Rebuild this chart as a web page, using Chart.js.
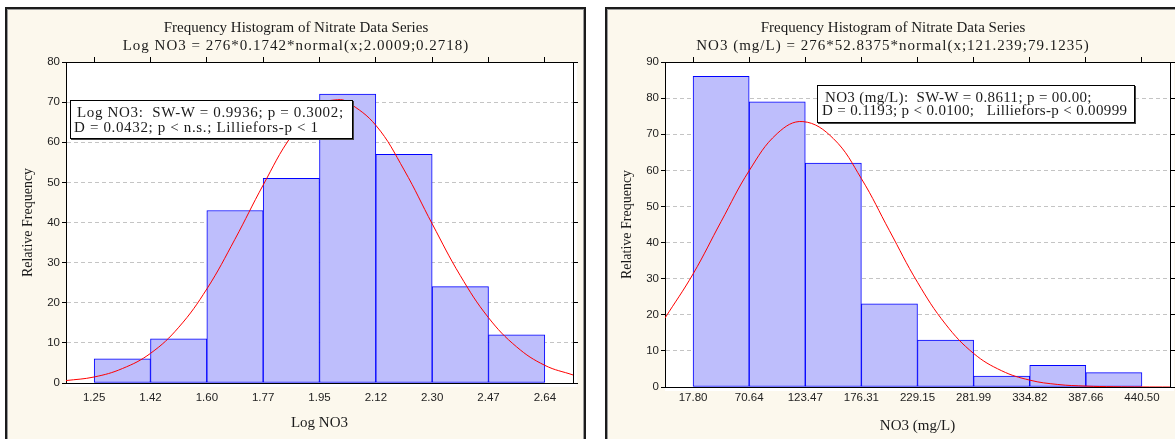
<!DOCTYPE html>
<html>
<head>
<meta charset="utf-8">
<script src="https://cdn.jsdelivr.net/npm/chart.js@4.4.0/dist/chart.umd.min.js"></script>
<style>
  body { margin: 0; background: #fff; width: 1175px; height: 439px; overflow: hidden; position: relative;
         font-family: "Liberation Serif", "Times New Roman", serif; color: #1a1a1a; }
  .panel { position: absolute; top: 7px; height: 470px; box-sizing: border-box; border: 2px solid #1b1b1b;
           background: #fcf8ed; box-shadow: inset 1px 1px 0 #9a9a9a, inset -1px 0 0 #9a9a9a; }
  #p1 { left: 5px; width: 581px; }
  #p2 { left: 605px; width: 600px; }
  canvas { position: absolute; top: 0; }
  #c1 { left: 0; }
  #c2 { left: 595px; }
  .ttl { position: absolute; top: 18px; white-space: nowrap; transform: translateX(-50%); text-align: center;
         font-size: 15px; line-height: 18px; }
  .ttl .l2 { letter-spacing: 1px; }
  .stat { position: absolute; box-sizing: border-box; background: #fff; border: 1px solid #000;
          box-shadow: 1px 1px 0 #444; font-size: 15px; white-space: nowrap; }
  #s1 { left: 70px; top: 100px; width: 283px; height: 39px; line-height: 15px; padding: 4px 0 0 3px; letter-spacing: 0.65px; }
  #s2 { left: 817px; top: 85px; width: 318px; height: 38px; line-height: 13px; padding: 5px 0 0 4px; letter-spacing: 0.35px; }
</style>
</head>
<body>
<div class="panel" id="p1"></div>
<div class="panel" id="p2"></div>
<canvas id="c1" width="590" height="439"></canvas>
<canvas id="c2" width="580" height="439"></canvas>

<div class="ttl" style="left:296px">Frequency Histogram of Nitrate Data Series<br><span class="l2">Log NO3 = 276*0.1742*normal(x;2.0009;0.2718)</span></div>
<div class="ttl" style="left:893px">Frequency Histogram of Nitrate Data Series<br><span class="l2">NO3 (mg/L) = 276*52.8375*normal(x;121.239;79.1235)</span></div>

<div class="stat" id="s1"><span style="padding-left:3px">Log NO3:&nbsp; SW-W = 0.9936; p = 0.3002;</span><br>D = 0.0432; p &lt; n.s.; Lilliefors-p &lt; 1</div>
<div class="stat" id="s2"><span style="padding-left:3px">NO3 (mg/L):&nbsp; SW-W = 0.8611; p = 00.00;</span><br>D = 0.1193; p &lt; 0.0100;&nbsp;&nbsp; Lilliefors-p &lt; 0.00999</div>

<script>
// Log NO3 histogram (left)
const logEdges = [1.25, 1.42375, 1.5975, 1.77125, 1.945, 2.11875, 2.2925, 2.46625, 2.64];
const logTickLabels = ['1.25', '1.42', '1.60', '1.77', '1.95', '2.12', '2.30', '2.47', '2.64'];
const logCounts = [6, 11, 43, 51, 72, 57, 24, 12];
const logCurveX = [1.163, 1.25, 1.337, 1.424, 1.511, 1.598, 1.684, 1.771, 1.858, 1.945, 2.001, 2.032,
                   2.119, 2.206, 2.293, 2.379, 2.466, 2.553, 2.64, 2.727];
const logCurveY = [0.6, 1.5, 3.6, 7.4, 13.9, 23.5, 35.8, 49.3, 61.5, 69.3, 70.6, 70.0,
                   64.2, 53.1, 39.6, 26.8, 16.3, 9.0, 4.4, 2.0];

// NO3 (mg/L) histogram (right)
const no3Edges = [17.80, 70.64, 123.47, 176.31, 229.15, 281.99, 334.82, 387.66, 440.50];
const no3TickLabels = ['17.80', '70.64', '123.47', '176.31', '229.15', '281.99', '334.82', '387.66', '440.50'];
const no3Counts = [86, 79, 62, 23, 13, 3, 6, 4];
const no3CurveX = [-8.6, 17.8, 44.2, 70.64, 97.06, 121.24, 149.9, 176.31, 202.73, 229.15, 255.57,
                   281.99, 308.4, 334.82, 361.24, 387.66, 414.08, 440.5, 466.9];
const no3CurveY = [19.1, 31.3, 45.8, 59.9, 70.2, 73.5, 68.8, 57.7, 43.3, 29.0, 17.4,
                   9.3, 4.5, 1.9, 0.7, 0.25, 0.08, 0.02, 0];

const serif = "'Liberation Serif', 'Times New Roman', serif";
const sans = "'Liberation Sans', Arial, sans-serif";

const plotBg = {
  id: 'plotBg',
  beforeDraw(chart) {
    const { ctx, chartArea: a } = chart;
    ctx.save();
    ctx.fillStyle = '#fff';
    ctx.fillRect(a.left, a.top, a.right - a.left + 4, a.bottom - a.top + 4);
    ctx.restore();
  }
};

function makeHist(id, o) {
  const centers = o.counts.map((c, i) => (o.edges[i] + o.edges[i + 1]) / 2);
  const bw = o.edges[1] - o.edges[0];
  const xmin = o.edges[0] - bw / 2;
  const xmax = o.edges[o.edges.length - 1] + bw / 2;
  const setEdges = s => { s.ticks = o.edges.map(v => ({ value: v })); };

  return new Chart(document.getElementById(id), {
    data: {
      datasets: [
        {
          type: 'line',
          order: 0,
          data: o.curveX.map((x, i) => ({ x, y: o.curveY[i] })),
          borderColor: '#ff0000',
          borderWidth: 1,
          pointRadius: 0,
          tension: 0.4
        },
        {
          type: 'bar',
          order: 1,
          data: centers.map((x, i) => ({ x, y: o.counts[i] })),
          backgroundColor: 'rgb(190,190,252)',
          borderColor: '#0000ff',
          borderWidth: 1,
          borderSkipped: false,
          barPercentage: 1,
          categoryPercentage: 1,
          grouped: false
        }
      ]
    },
    options: {
      responsive: false,
      animation: false,
      devicePixelRatio: 1,
      layout: { padding: { top: 57, left: 0, right: o.padRight, bottom: 0 } },
      plugins: { legend: { display: false }, tooltip: { enabled: false } },
      scales: {
        x: {
          type: 'linear', position: 'bottom', min: xmin, max: xmax, offset: false,
          afterBuildTicks: setEdges,
          afterFit: s => { s.height = o.xHeight; },
          grid: { offset: false, drawOnChartArea: false, drawTicks: false },
          border: { color: '#000', width: 1 },
          ticks: { autoSkip: false, maxRotation: 0, padding: o.xTickPad, color: '#222',
                   font: { family: sans, size: 11.5 }, callback: (v, i) => o.labels[i] },
          title: { display: true, text: o.xTitle, color: '#1a1a1a',
                   font: { family: serif, size: 15 }, padding: { top: 0, bottom: o.xTitlePad } }
        },
        x2: {
          type: 'linear', position: 'top', min: xmin, max: xmax, offset: false,
          afterBuildTicks: setEdges,
          afterFit: s => { s.height = 5; },
          grid: { offset: false, drawOnChartArea: false, tickLength: 5, tickColor: '#000' },
          border: { color: '#000', width: 1 },
          ticks: { display: false }
        },
        y: {
          position: 'left', min: 0, max: o.ymax,
          afterFit: s => { s.width = o.yWidth; },
          grid: { color: '#c4c4c4', tickLength: 4, tickColor: '#000' },
          border: { color: '#000', width: 1, dash: [4, 3] },
          ticks: { stepSize: 10, padding: 2, color: '#222', font: { family: sans, size: 11.5 } },
          title: { display: true, text: 'Relative Frequency', color: '#1a1a1a',
                   font: { family: serif, size: 14 }, padding: { top: o.yTitlePad, bottom: 0 } }
        },
        y2: {
          position: 'right', min: 0, max: o.ymax,
          afterFit: s => { s.width = 5; },
          grid: { drawOnChartArea: false, tickLength: 5, tickColor: '#000' },
          border: { color: '#000', width: 1 },
          ticks: { stepSize: 10, display: false }
        }
      }
    },
    plugins: [plotBg]
  });
}

makeHist('c1', {
  edges: logEdges, labels: logTickLabels, counts: logCounts,
  curveX: logCurveX, curveY: logCurveY, ymax: 80, xTitle: 'Log NO3',
  yWidth: 66, xHeight: 56, padRight: 12, xTickPad: 8, xTitlePad: 7, yTitlePad: 19.6
});

makeHist('c2', {
  edges: no3Edges, labels: no3TickLabels, counts: no3Counts,
  curveX: no3CurveX, curveY: no3CurveY, ymax: 90, xTitle: 'NO3 (mg/L)',
  yWidth: 70, xHeight: 52, padRight: 0, xTickPad: 4, xTitlePad: 4.3, yTitlePad: 23.6
});
</script>
</body>
</html>
